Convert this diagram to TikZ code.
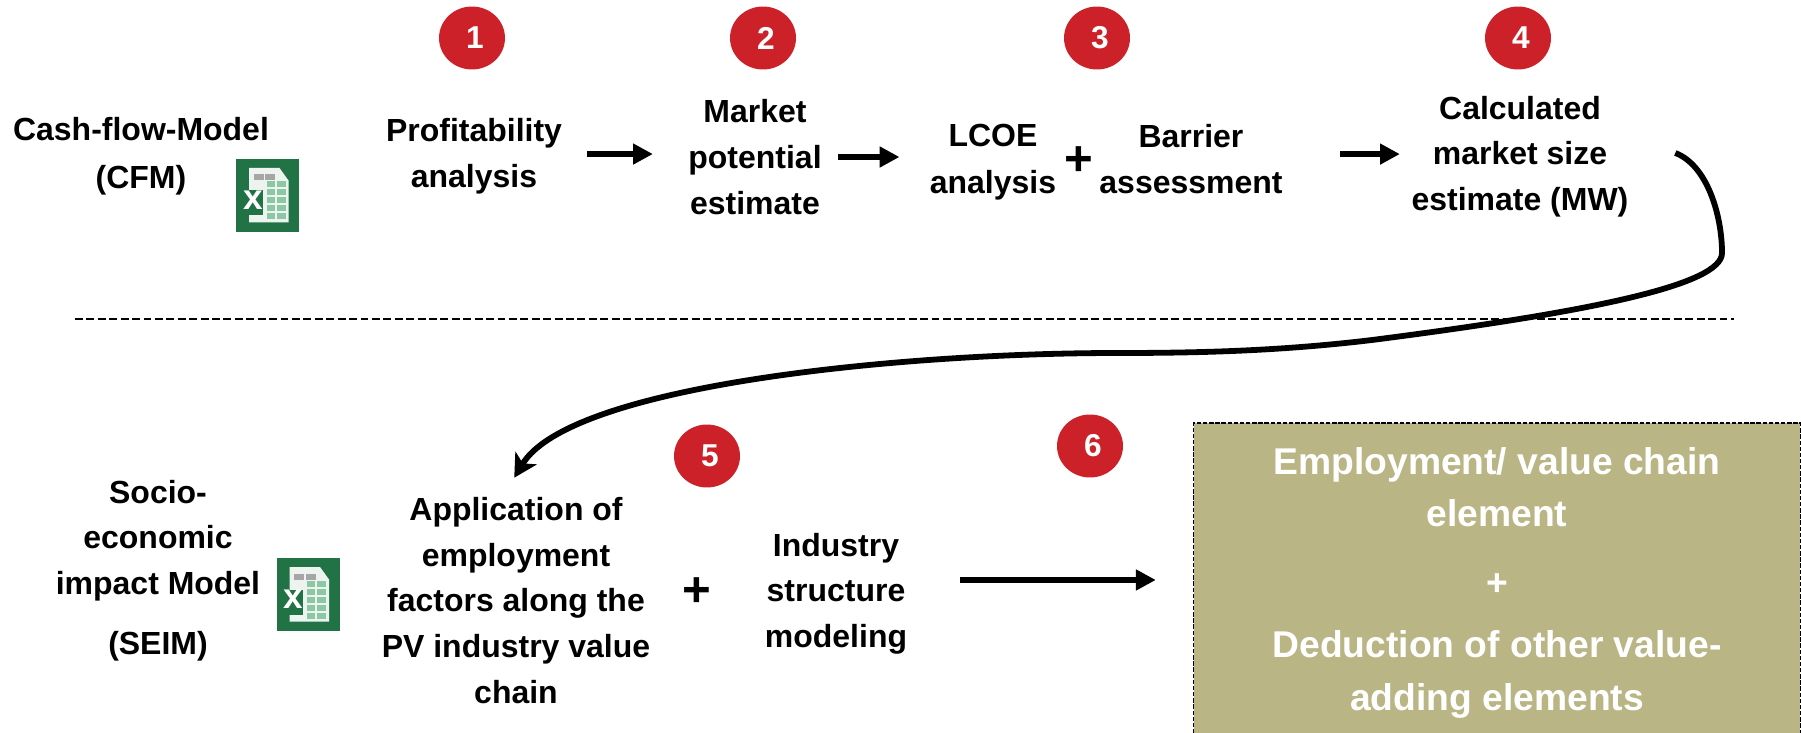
\documentclass[tikz,border=0pt]{standalone}
\usepackage{fontspec}
\setmainfont{Liberation Sans}
\usepackage{xcolor}
\usetikzlibrary{arrows.meta, shapes.geometric, positioning}
\definecolor{dotred}{HTML}{CC2128}
\definecolor{boxolive}{HTML}{BAB585}
\definecolor{xlgreen}{HTML}{217346}
\definecolor{xlcell}{HTML}{8CC8A4}
\tikzset{
  lbl/.style={align=center, font=\fontsize{18.2}{26}\selectfont\bfseries, inner sep=0pt},
  numdot/.style={shape=ellipse, minimum height=1.26cm, minimum width=1.32cm, inner sep=0pt, fill=dotred, text=white, font=\fontsize{18}{20}\selectfont\bfseries, execute at begin node=\hspace*{3.4pt}},
  plussign/.style={font=\fontsize{28}{28}\selectfont\bfseries, inner sep=0pt},
  flowarrow/.style={line width=3.7pt, -{Triangle[length=11.3pt, width=11.3pt]}},
  excelicon/.pic={
    \fill[xlgreen] (-31.5,-36.5) rectangle (31.5,36.5);
    \fill[white!92!xlgreen] (-18.5,-27.5) -- (12,-27.5) -- (21,-15) -- (21,27) -- (-18.5,27) -- cycle;
    \foreach \cx in {-14,-2.5} \fill[black!35] (\cx,-21) rectangle +(10,6);
    \foreach \cy in {-14,-6,2,10,18} {
      \fill[xlcell] (-1,\cy) rectangle +(8,6);
      \fill[xlcell] (9,\cy) rectangle +(9,6);
    }
    \fill[xlgreen] (-24,-5) rectangle (-5,20);
    \node[text=white, inner sep=0pt, font=\fontsize{20}{20}\selectfont\bfseries] at (-14.5,5) {x};
  },
}
\begin{document}
\begin{tikzpicture}[x=0.02cm, y=-0.02cm]
\clip (0,0) rectangle (1801,733);
%upper row
\node[lbl] (cfm) at (141,156.5) {Cash-flow-Model\\[1.5pt](CFM)};
\pic at (267.5,195.5) {excelicon};
\node[numdot] (d1) at (472,38) {1};
\node[lbl] (profit) at (474,156.5) {Profitability\\analysis};
\node[numdot] (d2) at (763,38) {2};
\node[lbl] (market) at (755,157) {Market\\potential\\estimate};
\node[numdot] (d3) at (1097,38) {3};
\node[lbl] (lcoe) at (993,162) {LCOE\\[0.7pt]analysis};
\node[plussign] (p1) at (1079,161) {+};
\node[lbl] (barrier) at (1191,159) {Barrier\\assessment};
\node[numdot] (d4) at (1518,38) {4};
\node[lbl] (calc) at (1520,156.5) {Calculated\\market size\\estimate (MW)};
%lower row
\node[lbl] (seim) at (158,570.5) {Socio-\\economic\\impact Model\\[8pt](SEIM)};
\pic at (308,594.5) {excelicon};
\node[lbl] (apply) at (516,600.5) {Application of\\employment\\factors along the\\PV industry value\\chain};
\node[numdot] (d5) at (707,456) {5};
\node[plussign] (p2) at (697,592) {+};
\node[lbl] (industry) at (836,593.5) {Industry\\structure\\modeling};
\node[numdot] (d6) at (1090,446) {6};
\node[shape=rectangle, draw=black, line width=1pt, dash pattern=on 2.5pt off 1pt, fill=boxolive, text=white, minimum width=12.14cm, minimum height=6.38cm, inner sep=0pt, align=center, font=\fontsize{21.2}{30}\selectfont\bfseries] (result) at (1497,582.5) {Employment/ value chain\\element\\[9.3pt]+\\[5pt]Deduction of other value-\\adding elements};
%separator
\coordinate (sepl) at (75,319);
\coordinate (sepr) at (1734,319);
\draw[line width=0.8pt, dash pattern=on 4.5pt off 2pt] (sepl) -- (sepr);
%arrows
\draw[flowarrow, shorten <=14pt, shorten >=20pt] ([yshift=1.4pt]profit.east) -- ([yshift=1.4pt]market.west |- profit.east);
\draw[flowarrow, shorten <=9.4pt, shorten >=17.1pt] (market.east) -- (lcoe.west |- market.east);
\draw[flowarrow, shorten <=32.5pt, shorten >=6.5pt] ([yshift=2.8pt]barrier.east) -- ([yshift=2.8pt]calc.west |- barrier.east);
\draw[line width=3.3pt, -{Stealth[length=13pt, width=14pt, inset=3.5pt]}] ([xshift=26.5pt, yshift=2pt]calc.east) .. controls (1707,165) and (1722,215) .. (1722,253) .. controls (1722,285) and (1590,312) .. (1372,340) .. controls (1280,351) and (1200,353) .. (1117,353) .. controls (900,353) and (570,385) .. ([xshift=-1pt, yshift=11pt]apply.north);
\draw[flowarrow, shorten <=30pt, shorten >=21pt] ([yshift=7.7pt]industry.east) -- ([yshift=7.7pt]result.west |- industry.east);
\end{tikzpicture}
\end{document}
